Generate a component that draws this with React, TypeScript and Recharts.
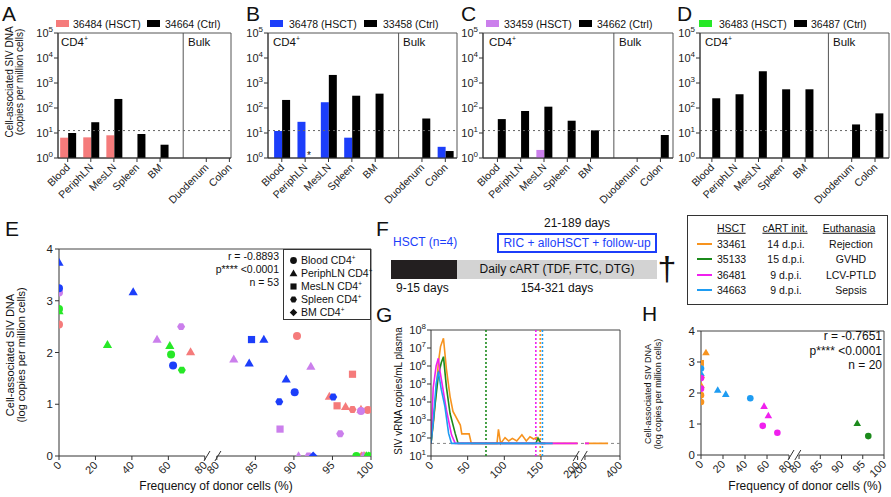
import React from "react";
import {
  BarChart,
  Bar,
  ScatterChart,
  Scatter,
  LineChart,
  Line,
  XAxis,
  YAxis,
  ReferenceLine,
  ReferenceArea,
} from "recharts";

const FONT = '"Liberation Sans", Arial, Helvetica, sans-serif';
const AX = "#333";

// ---------- A-D: cell-associated SIV DNA by tissue ----------
const tissues = ["Blood", "PeriphLN", "MesLN", "Spleen", "BM", "Duodenum", "Colon"];
const tissueSlots = [1, 2, 3, 4, 5, 7, 8]; // slot 6 is the CD4+ / Bulk divider
const decades = [1, 10, 100, 1000, 10000, 100000];
const detectionLimit = 12.5;

const hsctA = [6.5, 6.7, 8.1, null, null, null, null];
const ctrlA = [10, 27, 230, 9.1, 3.4, null, null];
const hsctB = [12, 28, 170, 6.5, null, null, 2.8];
const ctrlB = [210, null, 2100, 310, 375, 38, 1.9];
const hsctC = [null, null, 2.1, null, null, null, null];
const ctrlC = [36, 76, 113, 31, 12.8, null, 8.3];
const hsctD = [null, null, null, null, null, null, null];
const ctrlD = [245, 355, 2950, 560, 560, 22, 61];

// ---------- E: donor chimerism vs SIV DNA (HSCT animals) ----------
// [tissue, donor cells %, log copies per million cells]
type Pt = [string, number, number];
const e36484: Pt[] = [
  ["Blood", 0, 2.54], ["PeriphLN", 72.2, 2.01], ["Blood", 90.4, 2.32], ["MesLN", 97.6, 1.58],
  ["PeriphLN", 94.6, 1.15], ["MesLN", 95.6, 0.97], ["PeriphLN", 96.7, 0.95], ["Spleen", 97.6, 0.9],
  ["PeriphLN", 98.7, 0.9], ["Blood", 99.6, 0.89], ["BM", 98.8, 0], ["PeriphLN", 99.2, 0],
];
const e36478: Pt[] = [
  ["PeriphLN", 0, 3.74], ["Blood", 0, 3.24], ["PeriphLN", 40.7, 3.17], ["Blood", 62.6, 1.75],
  ["MesLN", 84.5, 2.25], ["PeriphLN", 86.1, 2.25], ["PeriphLN", 84.2, 1.79], ["PeriphLN", 89.0, 1.48],
  ["Blood", 90.1, 1.23], ["Spleen", 88.1, 1.05], ["Spleen", 95.1, 1.14], ["BM", 92.5, 0],
];
const e33459: Pt[] = [
  ["Blood", 0, 3.16], ["PeriphLN", 53.8, 2.25], ["Spleen", 67.0, 2.5], ["PeriphLN", 82.2, 1.87],
  ["PeriphLN", 92.2, 1.73], ["Blood", 98.7, 0.87], ["MesLN", 88.2, 0.52], ["Spleen", 96.0, 0.43],
  ["PeriphLN", 90.6, 0], ["Spleen", 91.9, 0], ["PeriphLN", 99.0, 0],
];
const e36483: Pt[] = [
  ["Blood", 0, 2.84], ["PeriphLN", 0, 2.8], ["PeriphLN", 26.6, 2.15], ["PeriphLN", 60.8, 2.13],
  ["Blood", 61.5, 1.96], ["Spleen", 67.4, 1.66], ["Blood", 98.1, 0], ["PeriphLN", 99.4, 0],
  ["MesLN", 100, 0], ["BM", 99.7, 0],
];

// ---------- G: plasma viral load ----------
// [days post infection, SIV vRNA copies/mL]
const g33461 = [
  [0, 50], [4, 1200], [10, 1.5e6], [13, 1.2e7], [17, 3.5e7], [21, 7e5], [26, 2e4], [30, 3e3],
  [40, 520], [42, 170], [52, 170], [55, 50], [90, 50], [92, 300], [95, 50], [101, 105], [106, 68],
  [111, 95], [117, 68], [124, 150], [130, 68], [135, 118], [140, 88], [144, 105], [150, 50],
  [200, 50], [332, 50],
];
const g35133 = [
  [0, 50], [4, 2e3], [10, 3e5], [14, 1.5e6], [17, 3.3e6], [21, 7e4], [26, 2.3e3], [33, 180],
  [37, 50], [143, 50], [146, 100], [150, 50], [156, 50],
];
const g36481 = [
  [0, 50], [3, 6e4], [7, 1e6], [10, 2.7e6], [12, 6e5], [21, 3.6e3], [28, 150], [33, 50],
  [200, 50], [223, 50],
];
const g34663 = [
  [0, 50], [3, 700], [7, 1e5], [10, 4.8e5], [14, 5e4], [19, 5.5e3], [24, 180], [28, 50], [166, 50],
];
const vlDetection = 50;
const hsctDay = { green: 75, magenta: 143, orange: 149, blue: 152 };

// ---------- H: donor chimerism vs SIV DNA ----------
const h33461: Pt[] = [
  ["PeriphLN", 4.5, 3.3], ["MesLN", 0, 2.97], ["PeriphLN", 0, 2.57], ["Blood", 0, 2.5],
  ["PeriphLN", 0, 2.25], ["Blood", 0, 1.93], ["Blood", 0, 1.71],
];
const h34663: Pt[] = [
  ["Blood", 0, 2.79], ["PeriphLN", 0, 2.63], ["PeriphLN", 15.2, 2.09], ["PeriphLN", 22.5, 1.96],
  ["Blood", 44.8, 1.83],
];
const h36481: Pt[] = [
  ["Blood", 0, 2.48], ["Blood", 0, 2.14], ["PeriphLN", 57.3, 1.57], ["PeriphLN", 61.2, 1.27],
  ["Blood", 56.1, 0.94], ["Blood", 69.4, 0.72],
];
const h35133: Pt[] = [["PeriphLN", 93.7, 1.02], ["Blood", 96.3, 0.61]];

const PINK = "#F57B7B";
const BLUE = "#1C3EFA";
const VIOLET = "#CB7FEC";
const GREEN = "#27E827";
const C_ORANGE = "#F7931E";
const C_GREEN = "#1B8A1B";
const C_MAGENTA = "#F020EE";
const C_BLUE = "#1E9CF2";

// broken x axes: segment 1 is linear, segment 2 starts after a gap and is stretched/compressed
const eT2 = (f: number) => 86.6 + (f - 80) * 4.23;
const eT = (f: number) => (f <= 80 ? f : eT2(f));
const E_MAX = eT2(100);
const hT2 = (f: number) => 89.1 + (f - 80) * 3.86;
const hT = (f: number) => (f <= 80 ? f : hT2(f));
const H_MAX = hT2(100);
const gT2 = (d: number) => 210 + (d - 200) * 0.239;
const gT = (d: number) => (d <= 200 ? d : gT2(d));
const G_MAX = gT2(400);

const freqTicks = [0, 20, 40, 60, 80];
const freqTicks2 = [80, 85, 90, 95, 100];
const dayTicks = [0, 50, 100, 150, 200];
const dayTicks2 = [200, 400];

function PowTick(p: any) {
  const { x, y, payload } = p;
  const e = Math.round(Math.log10(payload.value));
  return (
    <g>
      <line x1={x} y1={y} x2={x - 4} y2={y} stroke={AX} />
      <text x={x - 5} y={y + 4} textAnchor="end" fontSize={11} fill="#222" fontFamily={FONT}>
        10
        <tspan dy={-5} fontSize={8}>
          {e}
        </tspan>
      </text>
    </g>
  );
}

function NumTick(p: any) {
  const { x, y, payload } = p;
  return (
    <g>
      <line x1={x} y1={y} x2={x - 4} y2={y} stroke={AX} />
      <text x={x - 6} y={y + 4} textAnchor="end" fontSize={11.5} fill="#222" fontFamily={FONT}>
        {payload.value}
      </text>
    </g>
  );
}

function RotTick(p: any) {
  const { x, y, payload, ticks, labels, size = 10.5 } = p;
  const i = ticks.indexOf(payload.value);
  const label = i >= 0 ? labels[i] : "";
  if (!label) return <g />;
  const ax = x + 3;
  const ay = y + 10;
  return (
    <g>
      <line x1={x} y1={y} x2={x} y2={y + 4} stroke={AX} />
      <text
        x={ax}
        y={ay}
        transform={`rotate(-45 ${ax} ${ay})`}
        textAnchor="end"
        fontSize={size}
        fill="#222"
        fontFamily={FONT}
      >
        {label}
      </text>
    </g>
  );
}

function Marker({ cx, cy, shape, color, r }: any) {
  if (cx == null || cy == null) return <g />;
  switch (shape) {
    case "PeriphLN":
      return (
        <polygon
          points={`${cx},${cy - r * 1.2} ${cx - r * 1.15},${cy + r * 0.8} ${cx + r * 1.15},${cy + r * 0.8}`}
          fill={color}
        />
      );
    case "MesLN":
      return <rect x={cx - r * 0.9} y={cy - r * 0.9} width={r * 1.8} height={r * 1.8} fill={color} />;
    case "Spleen": {
      const pts = [0, 1, 2, 3, 4, 5]
        .map((k) => {
          const a = (Math.PI / 3) * k;
          return `${cx + r * Math.cos(a)},${cy + r * Math.sin(a)}`;
        })
        .join(" ");
      return <polygon points={pts} fill={color} />;
    }
    case "BM":
      return (
        <polygon
          points={`${cx},${cy - r * 1.1} ${cx + r * 1.1},${cy} ${cx},${cy + r * 1.1} ${cx - r * 1.1},${cy}`}
          fill={color}
        />
      );
    default:
      return <circle cx={cx} cy={cy} r={r} fill={color} />;
  }
}

function Txt({ x, y, children, size = 12, anchor = "start", color = "#111", style }: any) {
  const tx = anchor === "middle" ? "-50%" : anchor === "end" ? "-100%" : "0";
  return (
    <div
      style={{
        position: "absolute",
        left: x,
        top: y,
        transform: `translate(${tx}, -50%)`,
        fontSize: size,
        color,
        whiteSpace: "nowrap",
        lineHeight: 1,
        ...style,
      }}
    >
      {children}
    </div>
  );
}

function Letter({ x, y, children }: any) {
  return (
    <Txt x={x} y={y} size={21} style={{ lineHeight: 0.72 }}>
      {children}
    </Txt>
  );
}

function VLabel({ x, y, lines, size = 11, gap }: any) {
  return (
    <div
      style={{
        position: "absolute",
        left: x,
        top: y,
        transform: "translate(-50%, -50%) rotate(-90deg)",
        fontSize: size,
        lineHeight: `${gap ?? size + 1}px`,
        textAlign: "center",
        whiteSpace: "nowrap",
        color: "#111",
      }}
    >
      {lines.map((l: string) => (
        <div key={l}>{l}</div>
      ))}
    </div>
  );
}

const Sup = ({ children }: any) => (
  <span style={{ fontSize: "0.6em", verticalAlign: "super", lineHeight: 0 }}>{children}</span>
);

function BarPanel({ left, right, xMin, xMax, hsct, ctrl, color }: any) {
  const YW = 44;
  const TOP = 10;
  const XH = 60;
  const data = tissueSlots.map((s, i) => ({ slot: s, hsct: hsct[i], ctrl: ctrl[i] }));
  return (
    <div style={{ position: "absolute", left: left - YW, top: 33 - TOP }}>
      <BarChart
        width={right - left + YW + 4}
        height={125 + TOP + XH}
        data={data}
        margin={{ top: TOP, right: 4, bottom: 0, left: 0 }}
        barGap={0}
      >
        <XAxis
          type="number"
          dataKey="slot"
          domain={[xMin, xMax]}
          ticks={tissueSlots}
          allowDataOverflow
          interval={0}
          height={XH}
          stroke={AX}
          tickLine={false}
          tickSize={0}
          tickMargin={0}
          tick={(p: any) => <RotTick {...p} ticks={tissueSlots} labels={tissues} />}
        />
        <YAxis
          type="number"
          scale="log"
          domain={[1, 100000]}
          ticks={decades}
          allowDataOverflow
          interval={0}
          width={YW}
          stroke={AX}
          tickLine={false}
          tickSize={0}
          tickMargin={0}
          tick={(p: any) => <PowTick {...p} />}
        />
        <ReferenceArea x1={xMin} x2={xMax} y1={1} y2={100000} fill="none" fillOpacity={0} stroke="#555" />
        <ReferenceLine x={6} stroke="#555" />
        <ReferenceLine y={detectionLimit} stroke="#666" strokeDasharray="2 3" />
        <Bar dataKey="hsct" fill={color} barSize={8} isAnimationActive={false} />
        <Bar dataKey="ctrl" fill="#000" barSize={8} isAnimationActive={false} />
      </BarChart>
    </div>
  );
}

function toPts(pts: Pt[], tf: (f: number) => number) {
  return pts.map(([t, f, v]) => ({ x: tf(f), y: v, t }));
}

function toLine(pts: number[][]) {
  const out: { t: number; v: number | null }[] = [];
  pts.forEach(([d, v], i) => {
    if (i > 0 && pts[i - 1][0] <= 200 && d > 200) {
      out.push({ t: 205, v: null });
      out.push({ t: gT2(200), v: pts[i - 1][1] });
    }
    out.push({ t: gT(d), v });
  });
  return out;
}

function FreqScatter({ left, top, w, h, tf, tf2, max, series, r, yw, mark1, mark2 }: any) {
  const ticks = [...freqTicks, ...freqTicks2.map(tf2)];
  const labels = [...freqTicks, ...freqTicks2].map(String);
  const hw = (3 * max) / w;
  const hh = (5 * 4) / h;
  return (
    <div style={{ position: "absolute", left: left - yw, top: top - 8 }}>
      <ScatterChart width={w + yw + 6} height={h + 8 + 40} margin={{ top: 8, right: 6, bottom: 0, left: 0 }}>
        <XAxis
          type="number"
          dataKey="x"
          domain={[0, max]}
          ticks={ticks}
          allowDataOverflow
          interval={0}
          height={40}
          axisLine={false}
          tickLine={false}
          tickSize={0}
          tickMargin={0}
          tick={(p: any) => <RotTick {...p} ticks={ticks} labels={labels} size={11} />}
        />
        <YAxis
          type="number"
          dataKey="y"
          domain={[0, 4]}
          ticks={[0, 1, 2, 3, 4]}
          allowDataOverflow
          interval={0}
          width={yw}
          stroke={AX}
          tickLine={false}
          tickSize={0}
          tickMargin={0}
          tick={(p: any) => <NumTick {...p} />}
        />
        <ReferenceLine y={4} stroke="#444" />
        <ReferenceLine x={max} stroke="#444" />
        <ReferenceLine segment={[{ x: 0, y: 0 }, { x: 80, y: 0 }]} stroke={AX} />
        <ReferenceLine segment={[{ x: tf2(80), y: 0 }, { x: max, y: 0 }]} stroke={AX} />
        <ReferenceLine
          segment={[{ x: mark1 - hw, y: -hh }, { x: mark1 + hw, y: hh }]}
          stroke={AX}
          ifOverflow="visible"
        />
        <ReferenceLine
          segment={[{ x: mark2 - hw, y: -hh }, { x: mark2 + hw, y: hh }]}
          stroke={AX}
          ifOverflow="visible"
        />
        {series.map((s: any, i: number) => (
          <Scatter
            key={i}
            data={toPts(s.pts, tf)}
            isAnimationActive={false}
            shape={(p: any) => <Marker cx={p.cx} cy={p.cy} shape={p.payload.t} color={s.color} r={r} />}
          />
        ))}
      </ScatterChart>
    </div>
  );
}

function LegendSwatch({ x, color }: any) {
  return <div style={{ position: "absolute", left: x, top: 20, width: 13, height: 7, background: color }} />;
}

function MiniMark({ shape }: any) {
  return (
    <svg width={9} height={9} style={{ verticalAlign: "-1px", marginRight: 3 }}>
      <Marker cx={4.5} cy={4.5} shape={shape} color="#111" r={3.4} />
    </svg>
  );
}

export default function App() {
  const gTicks = [...dayTicks, ...dayTicks2.map(gT2)];
  const gLabels = [...dayTicks, ...dayTicks2].map(String);
  const gDecades = [10, 100, 1e3, 1e4, 1e5, 1e6, 1e7, 1e8];
  const gw = 189;
  const gh = 126;
  const ghw = (3 * G_MAX) / gw;

  return (
    <div
      style={{
        position: "absolute",
        left: 0,
        top: 0,
        width: 891,
        height: 497,
        background: "#fff",
        fontFamily: FONT,
        color: "#111",
        overflow: "hidden",
      }}
    >
      <BarPanel left={58} right={231} xMin={0.58} xMax={8.07} hsct={hsctA} ctrl={ctrlA} color={PINK} />
      <BarPanel left={268} right={457} xMin={0.41} xMax={8.5} hsct={hsctB} ctrl={ctrlB} color={BLUE} />
      <BarPanel left={483} right={673} xMin={0.38} xMax={8.54} hsct={hsctC} ctrl={ctrlC} color={VIOLET} />
      <BarPanel left={700} right={889} xMin={0.49} xMax={8.6} hsct={hsctD} ctrl={ctrlD} color={GREEN} />

      <FreqScatter
        left={59}
        top={249}
        w={312}
        h={207}
        tf={eT}
        tf2={eT2}
        max={E_MAX}
        r={4}
        yw={30}
        mark1={81.2}
        mark2={87.2}
        series={[
          { pts: e36484, color: PINK },
          { pts: e33459, color: VIOLET },
          { pts: e36483, color: GREEN },
          { pts: e36478, color: BLUE },
        ]}
      />

      <FreqScatter
        left={701}
        top={331}
        w={183}
        h={124}
        tf={hT}
        tf2={hT2}
        max={H_MAX}
        r={3.3}
        yw={22}
        mark1={81.8}
        mark2={88}
        series={[
          { pts: h33461, color: C_ORANGE },
          { pts: h34663, color: C_BLUE },
          { pts: h36481, color: C_MAGENTA },
          { pts: h35133, color: C_GREEN },
        ]}
      />

      {/* G: viral load */}
      <div style={{ position: "absolute", left: 431 - 34, top: 330 - 10 }}>
        <LineChart width={gw + 34 + 6} height={gh + 10 + 40} margin={{ top: 10, right: 6, bottom: 0, left: 0 }}>
          <XAxis
            type="number"
            dataKey="t"
            domain={[0, G_MAX]}
            ticks={gTicks}
            allowDataOverflow
            interval={0}
            height={40}
            axisLine={false}
            tickLine={false}
            tickSize={0}
            tickMargin={0}
            tick={(p: any) => <RotTick {...p} ticks={gTicks} labels={gLabels} size={11} />}
          />
          <YAxis
            type="number"
            scale="log"
            domain={[10, 1e8]}
            ticks={gDecades}
            allowDataOverflow
            interval={0}
            width={34}
            stroke={AX}
            tickLine={false}
            tickSize={0}
            tickMargin={0}
            tick={(p: any) => <PowTick {...p} />}
          />
          <ReferenceLine y={1e8} stroke="#444" />
          <ReferenceLine x={G_MAX} stroke="#444" />
          <ReferenceLine segment={[{ x: 0, y: 10 }, { x: 200, y: 10 }]} stroke={AX} />
          <ReferenceLine segment={[{ x: gT2(200), y: 10 }, { x: G_MAX, y: 10 }]} stroke={AX} />
          <ReferenceLine
            segment={[{ x: 198 - ghw, y: 5.3 }, { x: 198 + ghw, y: 19 }]}
            stroke={AX}
            ifOverflow="visible"
          />
          <ReferenceLine
            segment={[{ x: 209 - ghw, y: 5.3 }, { x: 209 + ghw, y: 19 }]}
            stroke={AX}
            ifOverflow="visible"
          />
          <ReferenceLine y={vlDetection} stroke="#888" strokeDasharray="3 3" />
          <ReferenceLine x={hsctDay.green} stroke={C_GREEN} strokeWidth={1.6} strokeDasharray="2 2" />
          <ReferenceLine x={hsctDay.magenta} stroke={C_MAGENTA} strokeWidth={1.6} strokeDasharray="2 2" />
          <ReferenceLine x={hsctDay.orange} stroke={C_ORANGE} strokeWidth={1.6} strokeDasharray="2 2" />
          <ReferenceLine x={hsctDay.blue} stroke={C_BLUE} strokeWidth={1.6} strokeDasharray="2 2" />
          <Line data={toLine(g33461)} dataKey="v" stroke={C_ORANGE} strokeWidth={1.6} dot={false} isAnimationActive={false} />
          <Line data={toLine(g35133)} dataKey="v" stroke={C_GREEN} strokeWidth={1.6} dot={false} isAnimationActive={false} />
          <Line data={toLine(g36481)} dataKey="v" stroke={C_MAGENTA} strokeWidth={1.6} dot={false} isAnimationActive={false} />
          <Line data={toLine(g34663)} dataKey="v" stroke={C_BLUE} strokeWidth={1.6} dot={false} isAnimationActive={false} />
        </LineChart>
      </div>

      {/* panel letters */}
      <Letter x={2} y={13.5}>A</Letter>
      <Letter x={246} y={13.5}>B</Letter>
      <Letter x={461} y={13.5}>C</Letter>
      <Letter x={677} y={13.5}>D</Letter>
      <Letter x={5} y={229}>E</Letter>
      <Letter x={376} y={229}>F</Letter>
      <Letter x={376} y={315}>G</Letter>
      <Letter x={642} y={314}>H</Letter>

      {/* bar legends */}
      <LegendSwatch x={56} color={PINK} />
      <Txt x={73} y={24} size={10.5}>36484 (HSCT)</Txt>
      <LegendSwatch x={147} color="#000" />
      <Txt x={165} y={24} size={10.5}>34664 (Ctrl)</Txt>
      <LegendSwatch x={270} color={BLUE} />
      <Txt x={289} y={24} size={10.5}>36478 (HSCT)</Txt>
      <LegendSwatch x={364} color="#000" />
      <Txt x={383} y={24} size={10.5}>33458 (Ctrl)</Txt>
      <LegendSwatch x={486} color={VIOLET} />
      <Txt x={504} y={24} size={10.5}>33459 (HSCT)</Txt>
      <LegendSwatch x={579} color="#000" />
      <Txt x={597} y={24} size={10.5}>34662 (Ctrl)</Txt>
      <LegendSwatch x={699} color={GREEN} />
      <Txt x={719} y={24} size={10.5}>36483 (HSCT)</Txt>
      <LegendSwatch x={794} color="#000" />
      <Txt x={811} y={24} size={10.5}>36487 (Ctrl)</Txt>

      {/* CD4+ / Bulk */}
      {[
        [61, 188],
        [273, 403],
        [489, 619],
        [705, 833],
      ].map(([a, b]) => (
        <React.Fragment key={a}>
          <Txt x={a} y={43} size={11.5}>
            CD4<Sup>+</Sup>
          </Txt>
          <Txt x={b} y={43} size={11.5}>
            Bulk
          </Txt>
        </React.Fragment>
      ))}
      <Txt x={309} y={156} size={10} anchor="middle">*</Txt>

      <VLabel x={15} y={82} lines={["Cell-associated SIV DNA", "(copies per million cells)"]} size={10} gap={10} />
      <VLabel x={16} y={355} lines={["Cell-associated SIV DNA", "(log copies per million cells)"]} size={11} gap={11} />
      <VLabel x={398} y={391} lines={["SIV vRNA copies/mL plasma"]} size={10} />
      <VLabel x={653} y={394} lines={["Cell-associated SIV DNA", "(log copies per million cells)"]} size={9} gap={10} />

      <Txt x={216} y={486} size={12} anchor="middle">Frequency of donor cells (%)</Txt>
      <Txt x={805} y={486} size={12} anchor="middle">Frequency of donor cells (%)</Txt>

      {/* E stats + legend */}
      <Txt x={279} y={256} size={10.5} anchor="end">r = -0.8893</Txt>
      <Txt x={279} y={269} size={10.5} anchor="end">p**** &lt;0.0001</Txt>
      <Txt x={279} y={282} size={10.5} anchor="end">n = 53</Txt>
      <div
        style={{
          position: "absolute",
          left: 283,
          top: 249,
          width: 88,
          height: 71,
          border: "1px solid #333",
          boxSizing: "border-box",
          background: "#fff",
          padding: "4px 0 0 5px",
          fontSize: 10.5,
          lineHeight: "13px",
        }}
      >
        {[
          ["Blood", "Blood CD4"],
          ["PeriphLN", "PeriphLN CD4"],
          ["MesLN", "MesLN CD4"],
          ["Spleen", "Spleen CD4"],
          ["BM", "BM CD4"],
        ].map(([s, l]) => (
          <div key={s} style={{ whiteSpace: "nowrap" }}>
            <MiniMark shape={s} />
            {l}
            <Sup>+</Sup>
          </div>
        ))}
      </div>

      {/* H stats */}
      <Txt x={882} y={336} size={12} anchor="end">r = -0.7651</Txt>
      <Txt x={882} y={351} size={12} anchor="end">p**** &lt;0.0001</Txt>
      <Txt x={882} y={365} size={12} anchor="end">n = 20</Txt>

      {/* F timeline */}
      <Txt x={393} y={242} size={12} color="#1C3EFA">HSCT (n=4)</Txt>
      <Txt x={577} y={223} size={12} anchor="middle">21-189 days</Txt>
      <div
        style={{
          position: "absolute",
          left: 497,
          top: 233,
          width: 160,
          height: 20,
          border: "2px solid #1C3EFA",
          boxSizing: "border-box",
          color: "#1C3EFA",
          fontSize: 12,
          lineHeight: "16px",
          textAlign: "center",
          whiteSpace: "nowrap",
        }}
      >
        RIC + alloHSCT + follow-up
      </div>
      <div style={{ position: "absolute", left: 391, top: 260, width: 66, height: 19, background: "#231f20" }} />
      <div
        style={{
          position: "absolute",
          left: 457,
          top: 260,
          width: 200,
          height: 19,
          background: "#d3d3d3",
          fontSize: 12,
          lineHeight: "19px",
          textAlign: "center",
          whiteSpace: "nowrap",
        }}
      >
        Daily cART (TDF, FTC, DTG)
      </div>
      <Txt x={667} y={268} size={34} anchor="middle">†</Txt>
      <Txt x={396} y={288} size={12}>9-15 days</Txt>
      <Txt x={557} y={288} size={12} anchor="middle">154-321 days</Txt>

      {/* animal table */}
      <div
        style={{
          position: "absolute",
          left: 687,
          top: 215,
          width: 201,
          height: 90,
          border: "1.5px solid #333",
          boxSizing: "border-box",
        }}
      />
      <Txt x={717} y={228} size={10.5} style={{ textDecoration: "underline" }}>HSCT</Txt>
      <Txt x={785} y={228} size={10.5} anchor="middle" style={{ textDecoration: "underline" }}>cART init.</Txt>
      <Txt x={849} y={228} size={10.5} anchor="middle" style={{ textDecoration: "underline" }}>Euthanasia</Txt>
      {[
        ["33461", "14 d.p.i.", "Rejection", C_ORANGE],
        ["35133", "15 d.p.i.", "GVHD", C_GREEN],
        ["36481", "9 d.p.i.", "LCV-PTLD", C_MAGENTA],
        ["34663", "9 d.p.i.", "Sepsis", C_BLUE],
      ].map(([id, dpi, why, c], i) => {
        const y = 243.5 + i * 15.5;
        return (
          <React.Fragment key={id}>
            <div style={{ position: "absolute", left: 697, top: y - 1, width: 15, height: 2, background: c }} />
            <Txt x={717} y={y} size={10.5}>{id}</Txt>
            <Txt x={786} y={y} size={10.5} anchor="middle">{dpi}</Txt>
            <Txt x={851} y={y} size={10.5} anchor="middle">{why}</Txt>
          </React.Fragment>
        );
      })}
    </div>
  );
}
